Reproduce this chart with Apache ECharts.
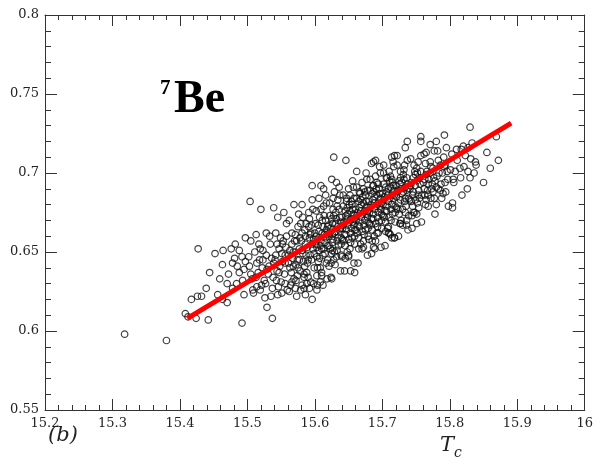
<!DOCTYPE html>
<html>
<head>
<meta charset="utf-8">
<script src="https://cdn.jsdelivr.net/npm/echarts@6/dist/echarts.min.js"></script>
<style>html,body{margin:0;padding:0;background:#fff;}#c{width:596px;height:463px;}</style>
</head>
<body>
<div id="c"></div>
<script>
// Axis ranges / ticks
const xTicks = [15.2, 15.3, 15.4, 15.5, 15.6, 15.7, 15.8, 15.9, 16];
const yTicks = [0.55, 0.6, 0.65, 0.7, 0.75, 0.8];

// Red reference line endpoints [Tc, ratio]
const fitLine = [[15.411, 0.608], [15.891, 0.7316]];

// Sparse / edge points
const edgePoints = [
[15.318,0.598],[15.380,0.594],[15.408,0.611],[15.412,0.609],[15.424,0.608],[15.442,0.607],[15.492,0.605],[15.537,0.608],[15.529,0.615],[15.417,0.620],[15.426,0.622],[15.432,0.622],[15.439,0.627],[15.444,0.637],[15.427,0.652],[15.452,0.649],[15.464,0.651],[15.482,0.655],[15.497,0.659],[15.459,0.633],[15.463,0.642],[15.478,0.643],[15.470,0.630],[15.484,0.630],[15.456,0.623],[15.463,0.620],[15.470,0.618],[15.492,0.647],[15.488,0.637],[15.495,0.639],[15.495,0.623],[15.508,0.626],[15.517,0.655],[15.528,0.662],[15.514,0.643],
[15.628,0.710],[15.646,0.708],[15.596,0.692],[15.609,0.692],[15.613,0.690],[15.569,0.680],[15.581,0.680],[15.625,0.696],[15.632,0.694],[15.662,0.701],[15.684,0.706],[15.690,0.708],[15.702,0.705],[15.718,0.711],
[15.830,0.729],[15.792,0.724],[15.757,0.723],[15.757,0.720],[15.737,0.720],[15.771,0.718],[15.780,0.720],[15.820,0.717],[15.833,0.719],[15.869,0.723],[15.855,0.713],[15.872,0.708],[15.860,0.703],[15.838,0.707],[15.839,0.705],[15.850,0.694],[15.830,0.697],[15.827,0.701],[15.815,0.703],[15.808,0.701],[15.823,0.711],[15.810,0.715],[15.795,0.716],[15.734,0.716],[15.765,0.713],[15.722,0.711],[15.805,0.696],[15.780,0.691],[15.786,0.689],[15.790,0.687],[15.768,0.686],[15.764,0.680],[15.780,0.680],[15.804,0.681],[15.804,0.678],[15.749,0.683],[15.746,0.675],[15.751,0.674],[15.751,0.668],[15.736,0.670],[15.736,0.667],[15.727,0.668],[15.718,0.659],
[15.596,0.620],[15.625,0.633],[15.653,0.638],[15.659,0.637],[15.689,0.652],[15.572,0.632],[15.584,0.634],[15.594,0.631],[15.603,0.635],[15.610,0.635],[15.621,0.641],[15.640,0.647],[15.650,0.648],
[15.712,0.661],[15.714,0.659],[15.687,0.653],[15.672,0.653],[15.680,0.658],[15.694,0.662],[15.709,0.662],[15.709,0.666],
[15.504,0.682],[15.520,0.677],[15.539,0.678],[15.554,0.675],[15.545,0.672],
[15.793,0.705],[15.783,0.708],[15.714,0.710],[15.687,0.707],[15.817,0.715],[15.827,0.716]
];

// Main body of the cloud
const corePoints = [
[15.472,0.636],[15.478,0.627],[15.485,0.641],[15.488,0.651],[15.493,0.632],[15.497,0.644],[15.481,0.646],[15.476,0.652],
[15.503,0.641],[15.507,0.633],[15.511,0.650],[15.514,0.628],[15.518,0.645],[15.505,0.657],[15.516,0.637],[15.509,0.624],[15.519,0.652],[15.502,0.647],[15.513,0.661],
[15.522,0.640],[15.525,0.632],[15.528,0.648],[15.531,0.636],[15.534,0.655],[15.537,0.627],[15.523,0.651],[15.539,0.643],[15.526,0.621],[15.533,0.660],[15.529,0.639],[15.536,0.646],[15.521,0.629],[15.538,0.634],
[15.541,0.645],[15.544,0.638],[15.547,0.652],[15.550,0.631],[15.553,0.657],[15.556,0.643],[15.559,0.626],[15.542,0.662],[15.548,0.641],[15.551,0.649],[15.555,0.636],[15.558,0.668],[15.545,0.623],[15.552,0.644],[15.557,0.653],[15.543,0.632],[15.549,0.659],
[15.561,0.648],[15.563,0.640],[15.566,0.655],[15.569,0.633],[15.571,0.661],[15.574,0.645],[15.577,0.652],[15.579,0.626],[15.562,0.670],[15.565,0.637],[15.568,0.650],[15.572,0.642],[15.575,0.666],[15.578,0.638],[15.564,0.629],[15.570,0.657],[15.576,0.674],[15.567,0.646],[15.573,0.622],
[15.581,0.651],[15.583,0.644],[15.586,0.660],[15.588,0.637],[15.591,0.666],[15.593,0.648],[15.596,0.655],[15.598,0.630],[15.582,0.672],[15.585,0.641],[15.589,0.653],[15.592,0.659],[15.595,0.645],[15.597,0.677],[15.584,0.627],[15.587,0.668],[15.590,0.634],[15.594,0.662],[15.599,0.649],[15.580,0.657],[15.596,0.683],
[15.601,0.655],[15.603,0.647],[15.606,0.663],[15.608,0.640],[15.611,0.670],[15.613,0.652],[15.616,0.659],[15.618,0.633],[15.602,0.676],[15.605,0.644],[15.609,0.657],[15.612,0.666],[15.615,0.649],[15.617,0.681],[15.604,0.629],[15.607,0.672],[15.610,0.637],[15.614,0.661],[15.619,0.654],[15.600,0.662],[15.616,0.686],[15.606,0.651],
[15.621,0.660],[15.623,0.652],[15.626,0.668],[15.628,0.645],[15.631,0.675],[15.633,0.657],[15.636,0.664],[15.638,0.638],[15.622,0.681],[15.625,0.649],[15.629,0.662],[15.632,0.671],[15.635,0.654],[15.637,0.686],[15.624,0.634],[15.627,0.677],[15.630,0.642],[15.634,0.666],[15.639,0.659],[15.620,0.667],[15.636,0.691],[15.626,0.656],[15.632,0.647],[15.628,0.673],
[15.641,0.665],[15.643,0.657],[15.646,0.673],[15.648,0.650],[15.651,0.680],[15.653,0.662],[15.656,0.669],[15.658,0.643],[15.642,0.686],[15.645,0.654],[15.649,0.667],[15.652,0.676],[15.655,0.659],[15.657,0.691],[15.644,0.638],[15.647,0.682],[15.650,0.647],[15.654,0.671],[15.659,0.664],[15.640,0.672],[15.656,0.695],[15.646,0.661],[15.652,0.652],[15.648,0.678],[15.658,0.684],
[15.661,0.670],[15.663,0.662],[15.666,0.678],[15.668,0.655],[15.671,0.685],[15.673,0.667],[15.676,0.674],[15.678,0.648],[15.662,0.691],[15.665,0.659],[15.669,0.672],[15.672,0.681],[15.675,0.664],[15.677,0.696],[15.664,0.643],[15.667,0.687],[15.670,0.652],[15.674,0.676],[15.679,0.669],[15.660,0.677],[15.676,0.700],[15.666,0.666],[15.672,0.657],[15.668,0.683],[15.678,0.689],
[15.681,0.675],[15.683,0.667],[15.686,0.683],[15.688,0.660],[15.691,0.690],[15.693,0.672],[15.696,0.679],[15.698,0.653],[15.682,0.696],[15.685,0.664],[15.689,0.677],[15.692,0.686],[15.695,0.669],[15.697,0.700],[15.684,0.649],[15.687,0.692],[15.690,0.657],[15.694,0.681],[15.699,0.674],[15.680,0.682],[15.696,0.704],[15.686,0.671],[15.692,0.662],[15.688,0.688],
[15.701,0.680],[15.703,0.672],[15.706,0.688],[15.708,0.665],[15.711,0.695],[15.713,0.677],[15.716,0.684],[15.718,0.659],[15.702,0.700],[15.705,0.669],[15.709,0.682],[15.712,0.691],[15.715,0.674],[15.717,0.704],[15.704,0.654],[15.707,0.697],[15.710,0.662],[15.714,0.686],[15.719,0.679],[15.700,0.687],[15.716,0.707],[15.706,0.676],
[15.721,0.685],[15.723,0.677],[15.726,0.693],[15.728,0.670],[15.731,0.699],[15.733,0.682],[15.736,0.689],[15.738,0.664],[15.722,0.705],[15.725,0.674],[15.729,0.687],[15.732,0.696],[15.735,0.679],[15.737,0.708],[15.724,0.660],[15.727,0.701],[15.730,0.667],[15.734,0.691],[15.739,0.684],[15.720,0.692],
[15.741,0.690],[15.743,0.682],[15.746,0.697],[15.748,0.675],[15.751,0.703],[15.753,0.686],[15.756,0.693],[15.758,0.669],[15.742,0.709],[15.745,0.679],[15.749,0.692],[15.752,0.700],[15.755,0.684],[15.757,0.711],[15.744,0.665],[15.747,0.705],[15.754,0.689],
[15.761,0.694],[15.763,0.686],[15.766,0.701],[15.768,0.679],[15.771,0.707],[15.773,0.690],[15.776,0.697],[15.778,0.674],[15.762,0.712],[15.765,0.683],[15.769,0.696],[15.772,0.704],[15.775,0.688],[15.777,0.714],
[15.781,0.698],[15.783,0.690],[15.786,0.705],[15.788,0.684],[15.791,0.710],[15.793,0.694],[15.796,0.701],[15.798,0.679],[15.782,0.714],[15.789,0.700],[15.794,0.688],
[15.801,0.702],[15.806,0.694],[15.811,0.708],[15.816,0.697],[15.821,0.704],[15.826,0.690],[15.831,0.709],[15.836,0.700],[15.803,0.712],[15.818,0.686]
];

// Densest part of the cloud
const densePoints = [
[15.542,0.648],[15.547,0.637],[15.552,0.655],[15.556,0.648],[15.561,0.643],[15.566,0.662],[15.571,0.650],[15.575,0.640],[15.578,0.659],[15.544,0.655],[15.558,0.660],
[15.581,0.662],[15.587,0.648],[15.592,0.671],[15.598,0.658],[15.584,0.636],[15.590,0.645],[15.595,0.667],[15.599,0.640],
[15.601,0.668],[15.604,0.658],[15.607,0.646],[15.611,0.662],[15.614,0.673],[15.617,0.643],[15.619,0.666],[15.603,0.653],[15.609,0.677],[15.615,0.656],
[15.621,0.654],[15.623,0.665],[15.626,0.661],[15.629,0.650],[15.631,0.668],[15.634,0.659],[15.637,0.672],[15.639,0.648],[15.622,0.673],[15.627,0.684],[15.633,0.679],[15.638,0.665],
[15.641,0.658],[15.643,0.669],[15.645,0.676],[15.647,0.664],[15.650,0.658],[15.652,0.686],[15.654,0.665],[15.657,0.674],[15.659,0.655],[15.642,0.679],[15.648,0.671],[15.655,0.680],[15.658,0.667],
[15.661,0.664],[15.663,0.675],[15.665,0.682],[15.667,0.669],[15.670,0.663],[15.672,0.690],[15.674,0.670],[15.677,0.679],[15.679,0.660],[15.662,0.684],[15.668,0.676],[15.675,0.686],[15.678,0.672],
[15.681,0.668],[15.683,0.680],[15.685,0.687],[15.687,0.674],[15.690,0.668],[15.692,0.694],[15.694,0.675],[15.697,0.684],[15.699,0.665],[15.682,0.689],[15.688,0.681],[15.695,0.690],[15.698,0.677],
[15.701,0.673],[15.703,0.685],[15.705,0.691],[15.707,0.679],[15.710,0.672],[15.712,0.698],[15.714,0.680],[15.717,0.689],[15.719,0.669],[15.702,0.693],[15.708,0.686],[15.715,0.694],
[15.721,0.678],[15.723,0.689],[15.725,0.695],[15.727,0.683],[15.730,0.677],[15.732,0.702],[15.734,0.684],[15.737,0.693],[15.739,0.673],[15.728,0.690],
[15.741,0.683],[15.743,0.694],[15.746,0.688],[15.749,0.699],[15.752,0.681],[15.755,0.697],[15.758,0.686],
[15.762,0.690],[15.765,0.699],[15.768,0.693],[15.772,0.684],[15.775,0.703],[15.778,0.695]
];

// Further points filling the dark centre and lower-left of the cloud
const extraPoints = [
[15.563,0.651],[15.568,0.641],[15.573,0.657],[15.577,0.645],[15.582,0.649],[15.586,0.655],[15.589,0.643],[15.593,0.661],[15.597,0.652],[15.585,0.664],[15.579,0.668],[15.591,0.675],[15.574,0.635],[15.588,0.630],
[15.602,0.660],[15.605,0.667],[15.608,0.654],[15.612,0.648],[15.616,0.670],[15.618,0.661],[15.604,0.640],[15.613,0.679],[15.606,0.684],[15.619,0.645],[15.610,0.652],[15.617,0.664],
[15.622,0.662],[15.625,0.671],[15.627,0.658],[15.631,0.663],[15.633,0.651],[15.636,0.677],[15.638,0.669],[15.624,0.643],[15.629,0.688],[15.634,0.683],[15.639,0.655],[15.626,0.651],
[15.642,0.667],[15.644,0.661],[15.647,0.684],[15.649,0.674],[15.651,0.669],[15.653,0.656],[15.656,0.677],[15.658,0.671],[15.645,0.646],[15.650,0.690],[15.654,0.682],[15.659,0.660],
[15.662,0.673],[15.664,0.667],[15.666,0.688],[15.669,0.680],[15.671,0.674],[15.673,0.661],[15.676,0.682],[15.678,0.676],[15.665,0.652],[15.670,0.694],[15.674,0.688],[15.679,0.665],
[15.682,0.678],[15.684,0.671],[15.686,0.692],[15.689,0.685],[15.691,0.679],[15.693,0.666],[15.696,0.687],[15.698,0.681],[15.685,0.657],[15.690,0.698],[15.694,0.693],[15.699,0.670],
[15.702,0.683],[15.704,0.676],[15.706,0.697],[15.709,0.690],[15.711,0.684],[15.713,0.670],[15.716,0.692],[15.718,0.686],[15.705,0.663],[15.710,0.701],[15.714,0.696],[15.719,0.675],
[15.722,0.688],[15.724,0.681],[15.727,0.697],[15.729,0.694],[15.731,0.688],[15.734,0.675],[15.736,0.697],[15.738,0.690],[15.726,0.668],[15.733,0.705],
[15.742,0.692],[15.745,0.686],[15.748,0.701],[15.751,0.695],[15.754,0.678],[15.757,0.701],[15.744,0.673],[15.753,0.707],
[15.763,0.696],[15.767,0.689],[15.771,0.700],[15.774,0.693],[15.777,0.684],[15.764,0.706],
[15.784,0.700],[15.787,0.693],[15.792,0.704],[15.797,0.696],
[15.513,0.634],[15.519,0.626],[15.527,0.630],[15.532,0.641],[15.535,0.622],[15.546,0.628],[15.551,0.624],[15.556,0.630],[15.562,0.625],[15.566,0.631],[15.571,0.627],[15.581,0.629],[15.586,0.623],[15.592,0.627],[15.603,0.626],[15.608,0.631],[15.612,0.629],[15.523,0.645],[15.505,0.636]
];

const serif = 'DejaVu Serif';
const axisColor = '#333';
const chart = echarts.init(document.getElementById('c'));

const xMin = xTicks[0], xMax = xTicks[xTicks.length - 1], xStep = 0.1;
const yMin = yTicks[0], yMax = yTicks[yTicks.length - 1], yStep = 0.05;

function pick(list, v) {
  const t = list.find(k => Math.abs(k - v) < 1e-6);
  return t === undefined ? '' : String(t);
}

chart.setOption({
  animation: false,
  backgroundColor: '#fff',
  grid: {left: 45, right: 9, top: 15, bottom: 53},
  xAxis: [
    {type: 'value', min: xMin, max: xMax, interval: xStep, position: 'bottom',
      axisLine: {show: true, onZero: false, lineStyle: {color: axisColor}},
      axisTick: {show: true, inside: true, length: 11, lineStyle: {color: axisColor}},
      minorTick: {show: true, splitNumber: 5, length: 5, lineStyle: {color: axisColor}},
      splitLine: {show: false},
      axisLabel: {show: true, color: '#222', fontFamily: serif, fontSize: 13, margin: 7, formatter: v => pick(xTicks, v)}},
    {type: 'value', min: xMin, max: xMax, interval: xStep, position: 'top',
      axisLine: {show: true, onZero: false, lineStyle: {color: axisColor}},
      axisTick: {show: true, inside: true, length: 11, lineStyle: {color: axisColor}},
      minorTick: {show: true, splitNumber: 5, length: 5, lineStyle: {color: axisColor}},
      splitLine: {show: false},
      axisLabel: {show: false}}
  ],
  yAxis: [
    {type: 'value', min: yMin, max: yMax, interval: yStep, position: 'left',
      axisLine: {show: true, onZero: false, lineStyle: {color: axisColor}},
      axisTick: {show: true, inside: true, length: 12, lineStyle: {color: axisColor}},
      minorTick: {show: true, splitNumber: 5, length: 6, lineStyle: {color: axisColor}},
      splitLine: {show: false},
      axisLabel: {show: true, color: '#222', fontFamily: serif, fontSize: 13, margin: 6, formatter: v => pick(yTicks, v)}},
    {type: 'value', min: yMin, max: yMax, interval: yStep, position: 'right',
      axisLine: {show: true, onZero: false, lineStyle: {color: axisColor}},
      axisTick: {show: true, inside: true, length: 12, lineStyle: {color: axisColor}},
      minorTick: {show: true, splitNumber: 5, length: 6, lineStyle: {color: axisColor}},
      splitLine: {show: false},
      axisLabel: {show: false}}
  ],
  series: [
    {
      type: 'scatter',
      data: edgePoints.concat(corePoints, densePoints, extraPoints),
      symbol: 'circle', symbolSize: 6.5,
      itemStyle: {color: 'rgba(255,255,255,0)', borderColor: '#111', borderWidth: 1.2},
      z: 2
    },
    {
      type: 'line',
      data: fitLine, showSymbol: false, symbol: 'none',
      lineStyle: {color: '#ff0000', width: 5},
      z: 3
    }
  ],
  graphic: [
    {type: 'text', left: 160, top: 78, style: {text: '7', font: 'bold 21px "Liberation Serif"', fill: '#000'}},
    {type: 'text', left: 174, top: 77, style: {text: 'Be', font: 'bold 46px "Liberation Serif"', fill: '#000'}},
    {type: 'text', left: 48, top: 425, style: {text: '(b)', font: 'italic 21px "DejaVu Serif"', fill: '#222'}},
    {type: 'text', left: 440, top: 435, style: {text: 'T', font: 'italic 21px "DejaVu Serif"', fill: '#222'}},
    {type: 'text', left: 454, top: 446, style: {text: 'c', font: 'italic 14px "DejaVu Serif"', fill: '#222'}}
  ]
});
</script>
</body>
</html>
